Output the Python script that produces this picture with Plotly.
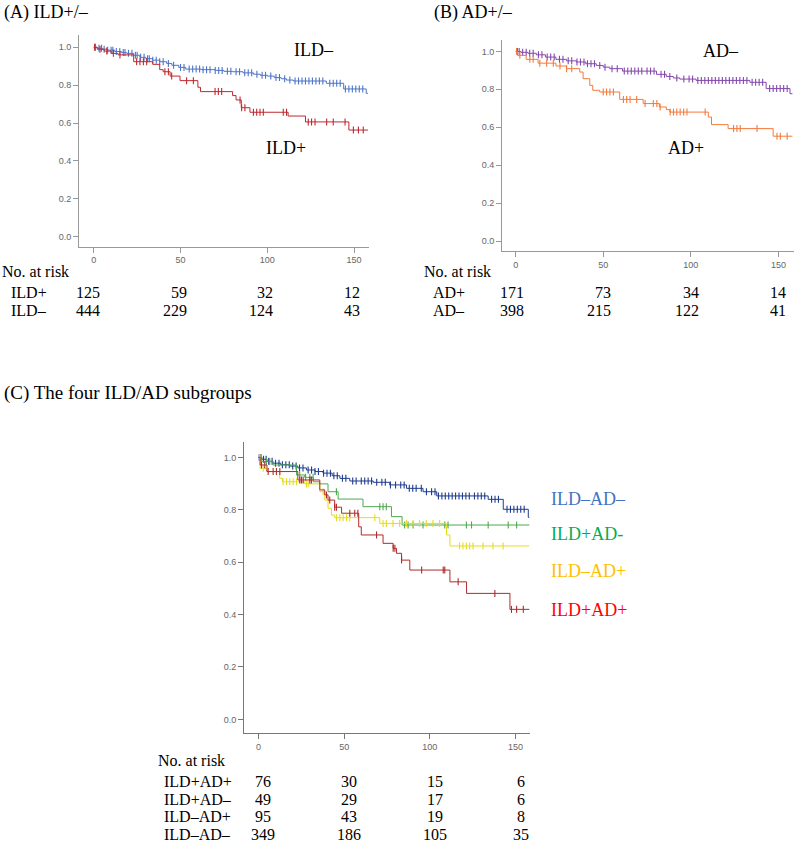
import numpy as np
import plotly.graph_objects as go

W, H = 794, 842

# ---------------- Panel A data ----------------
ildneg_t = [0, 2, 5, 8, 12, 16, 19, 23, 26.5, 30, 34, 38, 42, 45, 49, 53, 62, 70, 75, 80, 86, 92, 96, 100, 104, 108, 111, 115, 134, 144, 157, 158]
ildneg_s = [1.0, 0.995, 0.99, 0.985, 0.978, 0.972, 0.968, 0.958, 0.947, 0.94, 0.932, 0.924, 0.915, 0.905, 0.894, 0.885, 0.882, 0.878, 0.873, 0.871, 0.865, 0.858, 0.852, 0.848, 0.84, 0.834, 0.827, 0.822, 0.81, 0.78, 0.757, 0.757]
ildneg_c = [1, 3, 4.5, 6, 8, 10, 11, 13, 15, 17, 18, 20, 22, 24, 25, 27, 29, 31, 32, 34, 36, 38, 40, 43, 46, 50, 52, 55, 57, 59, 61, 63, 65, 67, 70, 72, 74, 77, 79, 82, 84, 87, 89, 91, 94, 97, 99, 102, 105, 107, 110, 113, 116, 118, 120, 122, 124, 126, 128, 130, 132, 136, 138, 140, 142, 145, 147, 149, 151, 153, 155]

ildpos_t = [0, 2, 6, 10, 14, 23, 34, 38, 40, 44, 49.7, 60, 61.5, 80, 82, 85, 90, 112, 122, 147, 158]
ildpos_s = [1.0, 0.99, 0.98, 0.968, 0.96, 0.924, 0.91, 0.882, 0.871, 0.848, 0.824, 0.789, 0.766, 0.745, 0.722, 0.681, 0.657, 0.637, 0.606, 0.563, 0.563]
ildpos_c = [0.5, 3.6, 7.5, 11.3, 15.1, 24.7, 26.6, 28.6, 30.5, 41.0, 43.0, 44.9, 53.5, 57.4, 69.9, 71.8, 73.7, 84.3, 85.2, 87.1, 92, 93.9, 95.8, 97.7, 109.2, 111.1, 123.6, 125.5, 127.5, 134.2, 138, 144.8, 149.6, 152.5, 155.3]

# ---------------- Panel B data ----------------
adneg_t = [0, 3, 7, 11.8, 17, 23, 29, 34.7, 40, 46, 50, 53.7, 61, 80.4, 86, 90, 93.7, 103, 133.7, 143, 156.6, 158]
adneg_s = [1.0, 0.995, 0.99, 0.982, 0.97, 0.958, 0.95, 0.944, 0.935, 0.926, 0.917, 0.909, 0.896, 0.879, 0.868, 0.86, 0.854, 0.847, 0.837, 0.804, 0.777, 0.777]
adneg_c = [1, 2, 4, 6, 8, 10, 13, 15, 18, 20, 22, 25, 27, 30, 32, 35, 37, 39, 41, 43, 45, 48, 51, 55, 58, 62, 64, 66, 68, 70, 72, 75, 77, 79, 83, 85, 88, 92, 96, 99, 101, 104, 106, 108, 110, 112, 114, 116, 118, 120, 122, 124, 126, 128, 130, 132, 135, 137, 139, 141, 145, 147, 149, 151, 153, 155]

adpos_t = [0, 1, 6, 12.8, 23, 29, 36.6, 38.5, 42.3, 44, 48, 59.4, 72.8, 82, 86, 88, 110, 111.8, 121.3, 147, 158]
adpos_s = [1.0, 0.979, 0.958, 0.938, 0.923, 0.909, 0.891, 0.856, 0.821, 0.795, 0.786, 0.747, 0.725, 0.707, 0.693, 0.68, 0.654, 0.614, 0.593, 0.553, 0.553]
adpos_c = [0.5, 2.4, 8.1, 10, 13.8, 17.7, 21.5, 25.3, 29.1, 32, 50, 51.9, 53.8, 55.8, 61.5, 63.4, 65.3, 69.1, 73.9, 78.6, 80.6, 82.5, 88.2, 90.1, 92, 93.9, 95.9, 97.8, 108.2, 124.4, 126.3, 128.2, 137.8, 149.2, 151.1, 155]

# ---------------- Panel C data ----------------
nn_t = [0, 2, 5, 8.5, 13, 18.3, 23, 28, 33, 37.7, 43, 47.5, 53.3, 67, 76.6, 86.4, 96, 104, 134, 142.8, 157.4, 158]
nn_s = [1.0, 0.993, 0.985, 0.978, 0.972, 0.967, 0.96, 0.952, 0.946, 0.94, 0.93, 0.92, 0.91, 0.905, 0.895, 0.882, 0.869, 0.853, 0.84, 0.802, 0.771, 0.771]
nn_c = [0.5, 1.5, 3, 4.5, 6, 8, 10, 12, 14, 16, 18, 20, 22, 24, 26, 29, 31, 33, 35, 38, 40, 42, 44, 46, 49, 51, 55, 57, 60, 62, 64, 66, 69, 72, 74, 77, 80, 83, 85, 88, 90, 92, 95, 98, 101, 103, 105, 107, 109, 111, 113, 115, 117, 119, 121, 123, 126, 128, 130, 132, 136, 138, 140, 145, 147, 149, 151, 153, 155]

pn_t = [0, 2, 8.5, 22.2, 27, 32, 35.8, 40.6, 46.5, 61, 77.6, 83.8, 158]
pn_s = [1.0, 0.984, 0.971, 0.933, 0.924, 0.907, 0.899, 0.869, 0.841, 0.812, 0.774, 0.742, 0.742]
pn_c = [0.8, 4.7, 6.6, 24.1, 27.5, 30, 31.9, 45.5, 70.8, 72.7, 74.6, 85.3, 87.3, 90.2, 96, 108.7, 110.6, 121.3, 124.3, 134, 145.7, 150.6]

np_t = [0, 1, 4.7, 12.4, 14, 27, 35.8, 38.7, 40.6, 42.6, 44.5, 70.8, 109.7, 111.7, 158]
np_s = [1.0, 0.959, 0.946, 0.92, 0.907, 0.899, 0.869, 0.837, 0.806, 0.78, 0.77, 0.748, 0.704, 0.662, 0.662]
np_c = [0.8, 2.8, 14.4, 16.4, 18.3, 20.3, 22.2, 28, 29, 37.8, 45.5, 47.5, 49.4, 51.4, 53.3, 67.9, 72.7, 74.6, 78.5, 82.4, 86.3, 90.2, 94, 97.9, 101.8, 105.7, 117.3, 119.3, 121.3, 123.2, 125.2, 131, 136.8, 142.7]

pp_t = [0, 1, 5, 23, 35.8, 38.7, 40.6, 44.5, 48.5, 58.5, 60, 72.7, 78.6, 80.5, 83.5, 88.3, 111.7, 121.4, 146.7, 158]
pp_s = [1.0, 0.971, 0.946, 0.914, 0.876, 0.857, 0.837, 0.81, 0.787, 0.735, 0.704, 0.672, 0.653, 0.634, 0.608, 0.57, 0.525, 0.481, 0.42, 0.42]
pp_c = [1.8, 3.7, 5.7, 8.6, 10.5, 12.5, 24.1, 25.1, 26.1, 30, 30.9, 39.7, 41.6, 44.5, 45.5, 53.3, 56.2, 58, 68.9, 78.6, 79.6, 83.5, 95.2, 107.8, 108.7, 116.5, 137.9, 147.6, 150.6, 154.5]

# risk tables
x_ticks = [0, 50, 100, 150]
riskA_labels = ["ILD+", "ILD–"]
riskA = [[125, 59, 32, 12], [444, 229, 124, 43]]
riskB_labels = ["AD+", "AD–"]
riskB = [[171, 73, 34, 14], [398, 215, 122, 41]]
riskC_labels = ["ILD+AD+", "ILD+AD–", "ILD–AD+", "ILD–AD–"]
riskC = [[76, 30, 15, 6], [49, 29, 17, 6], [95, 43, 19, 8], [349, 186, 105, 35]]


def step_at(times, surv, tc):
    times = np.asarray(times)
    surv = np.asarray(surv)
    idx = np.searchsorted(times, np.asarray(tc), side="right") - 1
    return surv[idx]


fig = go.Figure()


def add_curve(t, s, c, color, xa, ya):
    fig.add_trace(go.Scatter(x=t, y=s, mode="lines", line=dict(color=color, width=1, shape="hv"),
                             xaxis=xa, yaxis=ya, showlegend=False, hoverinfo="skip"))
    fig.add_trace(go.Scatter(x=c, y=step_at(t, s, c), mode="markers",
                             marker=dict(symbol="line-ns", size=5, line=dict(color=color, width=1.1)),
                             xaxis=xa, yaxis=ya, showlegend=False, hoverinfo="skip"))


add_curve(ildneg_t, ildneg_s, ildneg_c, "#4f74c8", "x", "y")
add_curve(ildpos_t, ildpos_s, ildpos_c, "#c0282d", "x", "y")
add_curve(adneg_t, adneg_s, adneg_c, "#8548ad", "x2", "y2")
add_curve(adpos_t, adpos_s, adpos_c, "#f47a3c", "x2", "y2")
add_curve(nn_t, nn_s, nn_c, "#1f3c8e", "x3", "y3")
add_curve(pn_t, pn_s, pn_c, "#4fa84f", "x3", "y3")
add_curve(np_t, np_s, np_c, "#e6dc1e", "x3", "y3")
add_curve(pp_t, pp_s, pp_c, "#b02a2a", "x3", "y3")


def px_x(p):
    return p / W


def px_y(p):
    return 1 - p / H


tickfont = dict(family="Liberation Sans, Arial", size=9, color="#666666")


def xax(dom, rng, lc):
    return dict(domain=dom, range=rng, showline=True, linecolor=lc, linewidth=1, ticks="outside",
                ticklen=5, tickcolor=lc, tickvals=x_ticks, tickfont=tickfont, showgrid=False,
                zeroline=False, fixedrange=True)


def yax(dom, rng, lc, anchor):
    return dict(domain=dom, range=rng, showline=True, linecolor=lc, linewidth=1, ticks="outside",
                ticklen=5, tickcolor=lc, tickvals=[0, 0.2, 0.4, 0.6, 0.8, 1.0], tickformat=".1f",
                tickfont=tickfont, showgrid=False, zeroline=False, anchor=anchor, fixedrange=True)


fig.update_layout(
    width=W, height=H, margin=dict(l=0, r=0, t=0, b=0), autosize=False,
    paper_bgcolor="white", plot_bgcolor="white",
    xaxis=xax([px_x(79), px_x(369)], [-8.5, 158.6], "#999999") | dict(anchor="y"),
    yaxis=yax([px_y(246.5), px_y(35)], [-0.052, 1.065], "#999999", "x"),
    xaxis2=xax([px_x(502), 1.0], [-7.8, 158.9], "#999999") | dict(anchor="y2"),
    yaxis2=yax([px_y(251), px_y(40)], [-0.052, 1.06], "#999999", "x2"),
    xaxis3=xax([px_x(244), px_x(530)], [-8.4, 158.4], "#777777") | dict(anchor="y3"),
    yaxis3=yax([px_y(733), px_y(441.7)], [-0.052, 1.06], "#777777", "x3"),
)

serif = "Liberation Serif, Times New Roman, serif"
ann = []


def text(x, y, s, size=16, color="black", xanchor="left", xref="paper", xshift=0):
    ann.append(dict(x=x, y=y, xref=xref, yref="paper", text=s, showarrow=False, xanchor=xanchor,
                    yanchor="middle", xshift=xshift, font=dict(family=serif, size=size, color=color)))


# titles
text(px_x(2), px_y(12), "(A) ILD+/–", 18)
text(px_x(432), px_y(12), "(B) AD+/–", 18)
text(px_x(2), px_y(393), "(C) The four ILD/AD subgroups", 19)

# in-plot labels
text(px_x(292), px_y(50), "ILD–", 18)
text(px_x(264), px_y(148), "ILD+", 18)
text(px_x(701), px_y(51), "AD–", 18)
text(px_x(666), px_y(148), "AD+", 18)
c_labels = ["ILD–AD–", "ILD+AD-", "ILD–AD+", "ILD+AD+"]
c_colors = ["#4472C4", "#00B050", "#FFC000", "#FF0000"]
c_ys = [499, 534, 571, 610]
for lab, col, yy in zip(c_labels, c_colors, c_ys):
    text(px_x(549), px_y(yy), lab, 18, col)

# risk tables
text(px_x(0), px_y(271), "No. at risk")
for i, (lab, row) in enumerate(zip(riskA_labels, riskA)):
    yy = px_y(292 + 18 * i)
    text(px_x(9), yy, lab)
    for xt, v in zip(x_ticks, row):
        text(xt, yy, str(v), xanchor="right", xref="x", xshift=8)

text(px_x(422), px_y(271), "No. at risk")
for i, (lab, row) in enumerate(zip(riskB_labels, riskB)):
    yy = px_y(292 + 18 * i)
    text(px_x(431), yy, lab)
    for xt, v in zip(x_ticks, row):
        text(xt, yy, str(v), xanchor="right", xref="x2", xshift=10)

text(px_x(156), px_y(760), "No. at risk")
for i, (lab, row) in enumerate(zip(riskC_labels, riskC)):
    yy = px_y(781.5 + 17.6 * i)
    text(px_x(162), yy, lab)
    for xt, v in zip(x_ticks, row):
        text(xt, yy, str(v), xanchor="center", xref="x3", xshift=5)

fig.update_layout(annotations=ann)
fig.write_html("out.html")
